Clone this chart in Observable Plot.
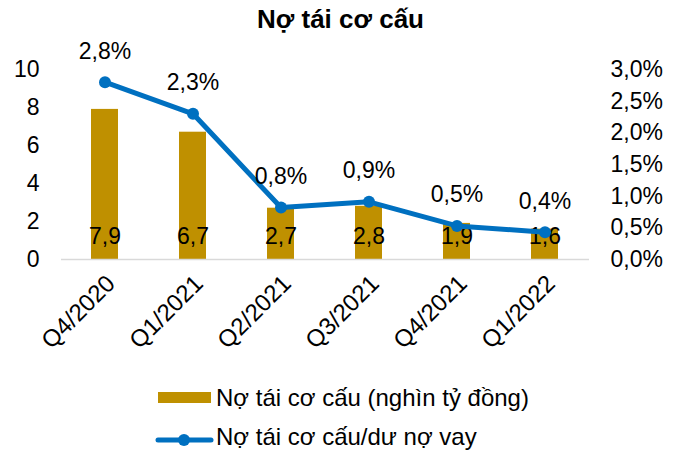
<!DOCTYPE html>
<html>
<head>
<meta charset="utf-8">
<script src="https://cdn.jsdelivr.net/npm/d3@7"></script>
<script src="https://cdn.jsdelivr.net/npm/@observablehq/plot@0.6"></script>
<style>
  body { margin: 0; background: #fff; font-family: "Liberation Sans", Arial, sans-serif; }
  #wrap { position: relative; width: 681px; height: 454px; overflow: hidden; }
  #title { position: absolute; left: 0; top: 6px; width: 681px; text-align: center; font-weight: bold; font-size: 26px; line-height: 26px; color: #000; }
  #chart { position: absolute; left: 0; top: 40px; }
  .legtxt { position: absolute; left: 216px; font-size: 24px; line-height: 24px; color: #000; white-space: nowrap; }
  .legsw { position: absolute; left: 0; top: 0; }
</style>
</head>
<body>
<div id="wrap">
  <div id="title">Nợ tái cơ cấu</div>
  <div id="chart"></div>
  <svg class="legsw" width="681" height="454">
    <rect x="158" y="392" width="53" height="11" fill="#BF9000"></rect>
    <line x1="158" x2="211" y1="440" y2="440" stroke="#0070C0" stroke-width="5" stroke-linecap="round"></line>
    <circle cx="184" cy="440" r="6" fill="#0070C0"></circle>
  </svg>
  <span class="legtxt" style="top:386px;">Nợ tái cơ cấu (nghìn tỷ đồng)</span>
  <span class="legtxt" style="top:425px;">Nợ tái cơ cấu/dư nợ vay</span>
</div>
<script>
const quarters = ["Q4/2020", "Q1/2021", "Q2/2021", "Q3/2021", "Q4/2021", "Q1/2022"];
const debt = [7.9, 6.7, 2.7, 2.8, 1.9, 1.6];            // nghìn tỷ đồng
const ratio = [2.8, 2.3, 0.82, 0.91, 0.53, 0.43];       // % dư nợ vay
const ratioLabels = ["2,8%", "2,3%", "0,8%", "0,9%", "0,5%", "0,4%"];
const leftTicks = [0, 2, 4, 6, 8, 10];
const rightTicks = [0, 0.5, 1, 1.5, 2, 2.5, 3];

const leftMax = 10, rightMax = 3;
const toLeft = p => p * leftMax / rightMax;
const fmtNum = v => v.toFixed(1).replace(".", ",");

const data = quarters.map((q, i) => ({q, debt: debt[i], ratio: ratio[i], rl: ratioLabels[i]}));

const chart = Plot.plot({
  width: 681,
  height: 330,
  marginTop: 29,
  marginBottom: 111,
  marginLeft: 61,
  marginRight: 92,
  style: {fontFamily: "Liberation Sans, Arial, sans-serif", fontSize: "23px", color: "#000", background: "transparent", overflow: "visible"},
  x: {domain: quarters, paddingInner: 0.69, paddingOuter: 0.345, align: 0.5},
  y: {domain: [0, leftMax]},
  marks: [
    Plot.barY(data, {x: "q", y: "debt", fill: "#BF9000"}),
    Plot.ruleY([0], {stroke: "#D9D9D9", strokeWidth: 1.5}),
    Plot.axisY(leftTicks, {anchor: "left", tickSize: 0, tickPadding: 22, fontSize: 23, label: null}),
    Plot.axisY(rightTicks.map(toLeft), {anchor: "right", tickSize: 0, tickPadding: 21, fontSize: 23, label: null,
      tickFormat: d => fmtNum(d * rightMax / leftMax) + "%"}),
    Plot.axisX({tickSize: 0, tickRotate: -45, tickPadding: 20, dx: 6, fontSize: 24, label: null}),
    Plot.text(data, {x: "q", y: 0, dy: -23, text: d => fmtNum(d.debt), fontSize: 23, fill: "#000"}),
    Plot.line(data, {x: "q", y: d => toLeft(d.ratio), stroke: "#0070C0", strokeWidth: 5, strokeLinejoin: "round", strokeLinecap: "round"}),
    Plot.dot(data, {x: "q", y: d => toLeft(d.ratio), r: 6, fill: "#0070C0"}),
    Plot.text(data, {x: "q", y: d => toLeft(d.ratio), dy: -31, text: "rl", fontSize: 23, fill: "#000"})
  ]
});
document.getElementById("chart").appendChild(chart);
</script>
</body>
</html>
